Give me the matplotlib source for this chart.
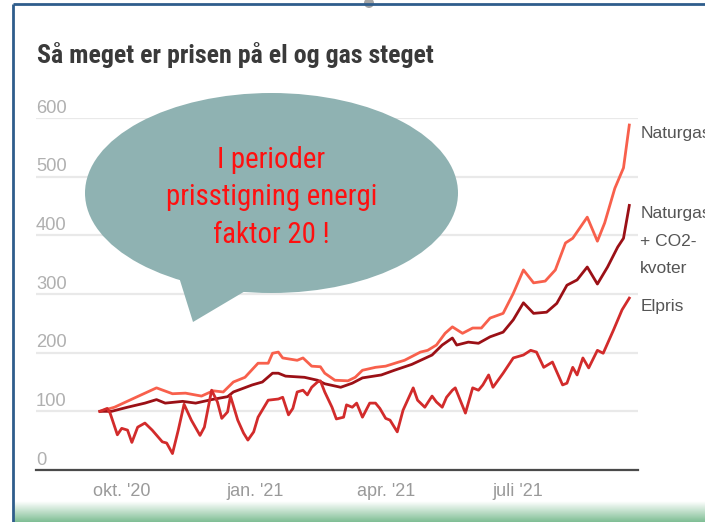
import matplotlib
matplotlib.use('Agg')
import matplotlib.pyplot as plt
import matplotlib.patches as mpatches
import matplotlib.transforms as mtransforms
from matplotlib import font_manager as fm
from matplotlib.colors import LinearSegmentedColormap
import numpy as np
import pandas as pd

plt.rcParams['font.family'] = ['Liberation Sans', 'DejaVu Sans']

# Index (start = 100), days counted from 16 Sep 2020
start_date = "2020-09-16"

gas_days = [0, 10, 24, 39, 50, 59, 70, 78, 85, 92, 100, 109, 116, 119, 123, 126, 136, 140,
            146, 152, 155, 162, 171, 176, 181, 190, 197, 206, 210, 221, 226, 232, 238, 243,
            250, 257, 263, 269, 278, 285, 292, 299, 307, 314, 321, 326, 336, 343, 348, 355,
            361, 365]
gas_vals = [100, 107, 123, 140, 130, 131, 126, 135, 133, 150, 158, 182, 182, 199, 201, 191,
            187, 191, 177, 176, 165, 153, 152, 158, 170, 175, 177, 184, 187, 201, 204, 213,
            233, 244, 233, 242, 242, 259, 267, 301, 341, 319, 322, 341, 387, 395, 431, 390,
            421, 480, 515, 588]

co2_days = [0, 8, 19, 31, 39, 45, 57, 66, 77, 88, 92, 105, 112, 119, 123, 128, 141, 150,
            155, 166, 174, 181, 194, 203, 215, 229, 236, 243, 246, 254, 261, 269, 278, 285,
            292, 299, 308, 315, 322, 329, 336, 343, 350, 357, 361, 365]
co2_vals = [100, 100, 107, 114, 120, 114, 117, 114, 120, 125, 133, 145, 150, 165, 165, 160,
            158, 153, 147, 141, 148, 157, 162, 170, 180, 196, 213, 225, 213, 218, 216, 227,
            235, 256, 285, 267, 269, 284, 315, 324, 346, 317, 346, 380, 395, 451]

el_days = [0, 5, 7, 12, 15, 19, 22, 26, 31, 36, 43, 46, 50, 54, 58, 63, 69, 72, 77, 81,
           84, 88, 90, 95, 99, 102, 106, 109, 116, 123, 126, 130, 133, 136, 140, 143, 146,
           150, 152, 155, 160, 163, 168, 170, 174, 177, 181, 186, 190, 193, 197, 200, 205,
           209, 216, 219, 224, 229, 232, 236, 239, 243, 245, 252, 257, 261, 264, 268, 271,
           278, 285, 292, 297, 301, 306, 312, 319, 322, 326, 329, 333, 337, 343, 347, 354,
           360, 365]
el_vals = [100, 105, 97, 60, 71, 68, 47, 73, 80, 68, 48, 46, 28, 68, 112, 85, 59, 73, 136,
           116, 88, 99, 126, 85, 63, 51, 65, 90, 119, 121, 124, 94, 105, 133, 136, 128, 141,
           150, 152, 133, 107, 87, 90, 111, 107, 114, 90, 114, 114, 105, 88, 85, 65, 102,
           140, 119, 107, 126, 116, 107, 124, 136, 140, 97, 140, 136, 145, 162, 141, 165,
           191, 196, 204, 201, 175, 184, 145, 148, 175, 162, 191, 174, 204, 199, 238, 273,
           293]

series_labels = [["Naturgas"], ["Naturgas", "+ CO2-", "kvoter"], ["Elpris"]]
y_ticks = [0, 100, 200, 300, 400, 500, 600]
x_tick_dates = ["2020-10-01", "2021-01-01", "2021-04-01", "2021-07-01"]
x_tick_labels = ["okt. '20", "jan. '21", "apr. '21", "juli '21"]

title = "Så meget er prisen på el og gas steget"
bubble_lines = ["I perioder", "prisstigning energi", "faktor 20 !"]


def to_dates(days):
    return pd.Timestamp(start_date) + pd.to_timedelta(days, unit='D')


def has_font(name):
    try:
        fm.findfont(fm.FontProperties(family=name), fallback_to_default=False)
        return True
    except ValueError:
        return False


# a narrow face looks closer to the screenshot, use one if it is there
narrow = [f for f in ['Roboto Condensed', 'Liberation Sans Narrow', 'Noto Sans Condensed',
                      'Open Sans Condensed'] if has_font(f)]
NARROW = narrow[:1] + ['Liberation Sans', 'DejaVu Sans']

W, H = 705, 522
fig = plt.figure(figsize=(W / 100, H / 100), dpi=100)
fig.patch.set_facecolor('white')

# main chart area (pixel box 36..638 x 118..470)
ax = fig.add_axes([36 / W, (H - 470) / H, (638 - 36) / W, (470 - 118) / H])

colors = ['#f8604c', '#9b1016', '#d22b2b']
all_days = [gas_days, co2_days, el_days]
all_vals = [gas_vals, co2_vals, el_vals]
for days, vals, c in zip(all_days, all_vals, colors):
    ax.plot(to_dates(days), vals, color=c, lw=2.0, solid_joinstyle='round',
            clip_on=False, zorder=3)

# end labels
label_offsets = [[-8], [-8, -36, -63], [-8]]
for days, vals, lines, offs in zip(all_days, all_vals, series_labels, label_offsets):
    for line, off in zip(lines, offs):
        ax.annotate(line, xy=(to_dates([days[-1]])[0], vals[-1]),
                    xytext=(11, off), textcoords='offset pixels',
                    ha='left', va='center', fontsize=12.5, color='#555555',
                    annotation_clip=False)

ax.set_xlim(to_dates([-44.1])[0], to_dates([371])[0])
ax.set_ylim(0, 600)

for s in ['top', 'right', 'left']:
    ax.spines[s].set_visible(False)
ax.spines['bottom'].set_color('#4a4a4a')
ax.spines['bottom'].set_linewidth(1.6)

ax.set_yticks(y_ticks)
ax.set_yticklabels([])
ax.tick_params(axis='y', length=0)
ax.yaxis.grid(True, color='#e9e9e9', lw=1.6, zorder=0)
ax.set_axisbelow(True)

trans = mtransforms.blended_transform_factory(ax.transAxes, ax.transData)
for v in y_ticks:
    ax.text(0, v + 2, str(v), transform=trans, ha='left', va='bottom',
            fontsize=13.2, color='#b0b0b0')

ax.set_xticks(pd.to_datetime(x_tick_dates))
ax.set_xticklabels(x_tick_labels)
ax.tick_params(axis='x', length=0, pad=9, labelsize=13, labelcolor='#9a9a9a')

title_txt = fig.text(37 / W, 1 - 63 / H, title, ha='left', va='baseline', fontsize=20,
                     fontweight='bold', color='#3a3a3a', family=NARROW)

# overlay in pixel coordinates for the slide decorations
ov = fig.add_axes([0, 0, 1, 1], zorder=5)
ov.patch.set_alpha(0)
ov.axis('off')

grad = np.linspace(0, 1, 40).reshape(-1, 1)
green = LinearSegmentedColormap.from_list('g', ['#ffffff', '#80bf95'])
ov.imshow(grad, extent=[13, W, H, 501], cmap=green, aspect='auto', zorder=1)

bubble_color = '#8fb2b2'
ov.add_patch(mpatches.Ellipse((271.5, 193), 373, 200, fc=bubble_color, ec='none', zorder=2))
ov.add_patch(mpatches.Polygon([(178, 274), (193, 322), (252, 287)], closed=True,
                              fc=bubble_color, ec='none', zorder=2))
bubble_txt = []
for line, yc in zip(bubble_lines, [160, 197, 235]):
    bubble_txt.append(ov.text(271.5, yc, line, ha='center', va='center', fontsize=23,
                              color='#ff1010', family=NARROW, zorder=3))

ov.plot([13, 13], [4, H], color='#2f5d8c', lw=2, zorder=4, solid_capstyle='butt')
ov.plot([13, W], [4, 4], color='#2f5d8c', lw=2, zorder=4, solid_capstyle='butt')
ov.add_patch(mpatches.Circle((369, 3), 5, fc='#a5a5a5', ec='none', zorder=3))

ov.set_xlim(0, W)
ov.set_ylim(H, 0)

# fit title and bubble text to the widths seen in the screenshot
fig.canvas.draw()
r = fig.canvas.get_renderer()
w = title_txt.get_window_extent(r).width
title_txt.set_fontsize(title_txt.get_fontsize() * min(1.0, 395 / w))
w = bubble_txt[1].get_window_extent(r).width
for t in bubble_txt:
    t.set_fontsize(t.get_fontsize() * min(1.0, 213 / w))

fig.savefig('out.png', dpi=100)
